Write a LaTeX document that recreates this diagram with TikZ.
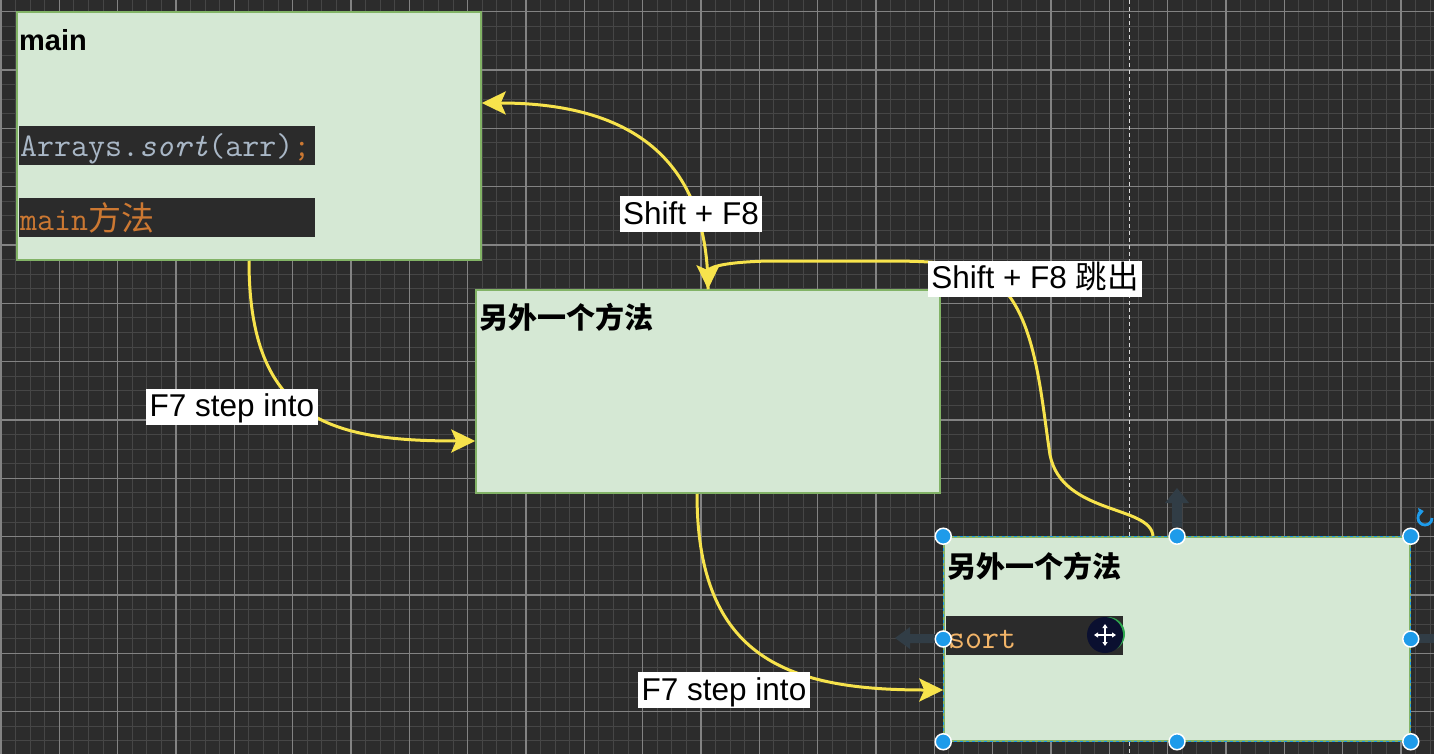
\documentclass[tikz,border=0pt]{standalone}
\usepackage{fontspec}
\setmainfont{Liberation Sans}
\newfontfamily\cjk{Noto Sans CJK SC}
\usetikzlibrary{arrows.meta}
\definecolor{bgc}{HTML}{2C2C2C}
\definecolor{gminorc}{HTML}{464646}
\definecolor{gmajorc}{HTML}{838383}
\definecolor{boxfill}{HTML}{D5E8D4}
\definecolor{boxline}{HTML}{82B366}
\definecolor{ylw}{HTML}{F7E34C}
\definecolor{codebg}{HTML}{2B2B2B}
\definecolor{codefg}{HTML}{A9B7C6}
\definecolor{kw}{HTML}{CC7832}
\definecolor{sortc}{HTML}{F2B468}
\definecolor{hblue}{HTML}{1E9BEA}
\definecolor{uiarrow}{HTML}{313D46}
\definecolor{navy}{HTML}{0B1030}
\definecolor{grn}{HTML}{2FA84F}
\tikzset{
  box/.style={draw=boxline, fill=boxfill, line width=1.5pt, inner sep=0pt},
  yarrow/.style={draw=ylw, line width=3pt, -{Stealth[length=24pt,width=23pt,inset=5pt]}},
  keylab/.style={fill=white, text=black, font=\fontsize{31.5}{36}\selectfont, inner xsep=3.5pt, inner ysep=3pt, text height=25pt, text depth=5pt},
  codeband/.style={fill=codebg, draw=none, inner sep=0pt},
  codetext/.style={anchor=base west, inner sep=0pt, font=\fontsize{33}{38}\selectfont\ttfamily},
  handle/.style={fill=hblue, draw=white, line width=1.5pt},
  titletext/.style={inner sep=0pt, text=black},
  gminor/.style={draw=gminorc, line width=1pt},
  gmajor/.style={draw=gmajorc, line width=1.1pt},
}
\begin{document}
\begin{tikzpicture}[x=1pt,y=-1pt]
\useasboundingbox (0,0) rectangle (1434,754);
% background and grid
\fill[bgc] (0,0) rectangle (1434,754);
\foreach \k in {0,...,98} {\draw[gminor] ({1+14.5833*\k},0) -- ({1+14.5833*\k},754);}
\foreach \k in {0,...,51} {\draw[gminor] (0,{11.7+14.5833*\k}) -- (1434,{11.7+14.5833*\k});}
\foreach \k in {0,...,24} {\draw[gmajor] ({1+58.333*\k},0) -- ({1+58.333*\k},754);}
\foreach \k in {0,...,12} {\draw[gmajor] (0,{11.7+58.333*\k}) -- (1434,{11.7+58.333*\k});}
% guide line
\draw[white!85!black, line width=1pt, dash pattern=on 4pt off 3pt] (1129,0) -- (1129,754);
% boxes
\node[box, minimum width=464pt, minimum height=248pt] (box1) at (249,136) {};
\node[box, minimum width=464pt, minimum height=203pt] (box2) at (708,391.5) {};
\node[box, minimum width=466pt, minimum height=204pt] (box3) at (1177,639) {};
\draw[hblue, line width=1pt, dash pattern=on 3pt off 3pt] (box3.north west) rectangle (box3.south east);
% box1 content
\node[titletext, anchor=base west, font=\fontsize{29}{34}\selectfont\bfseries] (t1) at (19,51) {main};
\node[codeband, anchor=north west, minimum width=296pt, minimum height=39pt] (band1) at (19,126) {};
\node[codetext] (code1) at (20,157) {\textcolor{codefg}{Arrays.\textit{sort}(arr)}\textcolor{kw}{;}};
\node[codeband, anchor=north west, minimum width=296pt, minimum height=39pt] (band2) at (19,198) {};
\node[codetext] (code2) at (20,230) {\textcolor{kw}{main{\cjk 方法}}};
% box2 content
\node[titletext, anchor=west, font=\fontsize{29}{34}\selectfont\cjk\bfseries] (t2) at (479,317) {另外一个方法};
% box3 content
\node[titletext, anchor=west, font=\fontsize{29}{34}\selectfont\cjk\bfseries] (t3) at (947,566) {另外一个方法};
\node[codeband, anchor=north west, minimum width=177pt, minimum height=39pt] (band3) at (946,616) {};
\node[codetext] (code3) at (948,648) {\textcolor{sortc}{sort}};
% connectors
\draw[yarrow] (box1.south) .. controls (249,420) and (330,441) .. ([yshift=-49.5pt]box2.west);
\draw[yarrow] ([xshift=-11pt]box2.south) .. controls (697,660) and (790,690) .. ([yshift=-51pt]box3.west);
\draw[yarrow] (box2.north) .. controls (708,150) and (620,103) .. ([yshift=33pt]box1.east);
\draw[yarrow] ([xshift=-24pt]box3.north) .. controls (1151,505) and (1062,515) .. (1050,455)
   .. controls (1040,390) and (1035,300) .. (985,275)
   .. controls (960,262) and (930,261) .. (880,261) -- (770,261)
   .. controls (720,262) and (708,268) .. (box2.north);
% labels
\node[keylab] (k1) at (691,214) {Shift + F8};
\node[keylab] (k2) at (1035,278.5) {Shift + F8 {\cjk 跳出}};
\node[keylab] (k3) at (232,406.5) {F7 step into};
\node[keylab] (k4) at (724,690) {F7 step into};
% UI hover arrows
\fill[uiarrow] (1177,488) -- (1189,503) -- (1182,503) -- (1182,527) -- (1172,527) -- (1172,503) -- (1165,503) -- cycle;
\fill[uiarrow] (895,638) -- (910,627) -- (910,634) -- (935,634) -- (935,643) -- (910,643) -- (910,649) -- cycle;
\fill[uiarrow] (1419,634) rectangle (1434,643);
% rotate icon
\draw[hblue, line width=2.8pt, -{Triangle[length=5pt,width=8pt]}] (1432,518) arc[start angle=0, end angle=-260, radius=7pt];
% selection handles
\foreach \p/\n in {(box3.north west)/h1,(box3.north)/h2,(box3.north east)/h3,(box3.west)/h4,(box3.east)/h5,(box3.south west)/h6,(box3.south)/h7,(box3.south east)/h8}
  {\path \p node[handle, circle, minimum size=16pt, inner sep=0pt] (\n) {};}
% move cursor
\fill[grn] (1108,634) circle[radius=17pt];
\node[circle, fill=navy, minimum size=36pt, inner sep=0pt] (cur) at (1105,635) {};
\draw[white, line width=1.5pt, {Triangle[length=4pt,width=5pt]}-{Triangle[length=4pt,width=5pt]}] ([xshift=-11pt]cur.center) -- ([xshift=11pt]cur.center);
\draw[white, line width=1.5pt, {Triangle[length=4pt,width=5pt]}-{Triangle[length=4pt,width=5pt]}] ([yshift=-11pt]cur.center) -- ([yshift=11pt]cur.center);
\end{tikzpicture}
\end{document}
